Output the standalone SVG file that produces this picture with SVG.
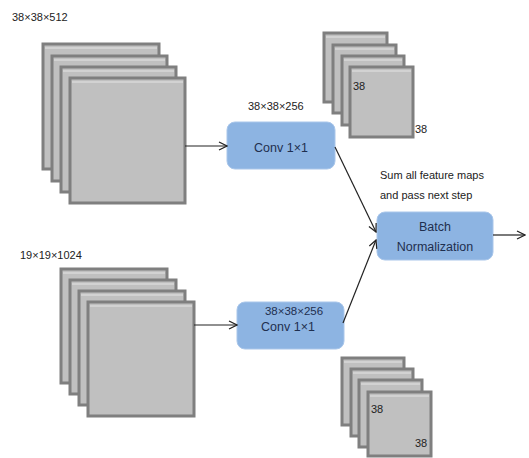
<svg xmlns="http://www.w3.org/2000/svg" width="529" height="458" viewBox="0 0 529 458">
<style>
.sq{fill:#c0c0c0;stroke:#7f7f7f;stroke-width:3}
.hl{stroke:#d8d8d8;stroke-width:1.5;fill:none}
.box{fill:#8db4e2;stroke:#a9c6ea;stroke-width:1}
.t{font-family:"Liberation Sans",Arial,sans-serif;font-size:11px;fill:#222}
.tb{font-family:"Liberation Sans",Arial,sans-serif;font-size:12.5px;fill:#1f2f4f;text-anchor:middle}
.ln{stroke:#222;stroke-width:1.2;fill:none}
</style>
<defs>
<marker id="ah" viewBox="0 0 10 10" refX="9" refY="5" markerWidth="10" markerHeight="10" markerUnits="userSpaceOnUse" orient="auto">
<polyline points="1,1 9,5 1,9" fill="none" stroke="#222" stroke-width="1.2"/>
</marker>
</defs>
<g id="stack1">
<rect class="sq" x="43" y="44" width="116" height="125"/>
<line class="hl" x1="45" y1="48" x2="157" y2="48"/>
<rect class="sq" x="52" y="56" width="115" height="125"/>
<line class="hl" x1="54" y1="60" x2="165" y2="60"/>
<rect class="sq" x="61" y="67" width="115" height="125"/>
<line class="hl" x1="63" y1="71" x2="174" y2="71"/>
<rect class="sq" x="70" y="78" width="115" height="125"/>
<line class="hl" x1="72" y1="82" x2="183" y2="82"/>
<text class="t" x="12" y="21">38×38×512</text>
</g>
<g id="stack2">
<rect class="sq" x="61" y="269" width="106" height="114"/>
<line class="hl" x1="63" y1="273" x2="165" y2="273"/>
<rect class="sq" x="70" y="280" width="106" height="114"/>
<line class="hl" x1="72" y1="284" x2="174" y2="284"/>
<rect class="sq" x="79" y="291" width="106" height="114"/>
<line class="hl" x1="81" y1="295" x2="183" y2="295"/>
<rect class="sq" x="88" y="302" width="106" height="114"/>
<line class="hl" x1="90" y1="306" x2="192" y2="306"/>
<text class="t" x="20" y="259">19×19×1024</text>
</g>
<g id="stack3">
<rect class="sq" x="324" y="33" width="63" height="69"/>
<line class="hl" x1="326" y1="37" x2="385" y2="37"/>
<rect class="sq" x="333" y="45" width="63" height="68"/>
<line class="hl" x1="335" y1="49" x2="394" y2="49"/>
<rect class="sq" x="342" y="56" width="62" height="69"/>
<line class="hl" x1="344" y1="60" x2="402" y2="60"/>
<rect class="sq" x="350" y="67" width="63" height="70"/>
<line class="hl" x1="352" y1="71" x2="411" y2="71"/>
<text class="t" x="353" y="90">38</text>
<text class="t" x="415" y="133">38</text>
</g>
<g id="stack4">
<rect class="sq" x="342" y="358" width="62" height="67"/>
<line class="hl" x1="344" y1="362" x2="402" y2="362"/>
<rect class="sq" x="351" y="369" width="62" height="67"/>
<line class="hl" x1="353" y1="373" x2="411" y2="373"/>
<rect class="sq" x="359" y="380" width="63" height="67"/>
<line class="hl" x1="361" y1="384" x2="420" y2="384"/>
<rect class="sq" x="368" y="392" width="63" height="64"/>
<line class="hl" x1="370" y1="396" x2="429" y2="396"/>
<text class="t" x="371" y="413">38</text>
<text class="t" x="415" y="447">38</text>
</g>
<g id="conv1">
<rect class="box" x="227" y="122" width="108" height="47" rx="8"/>
<text class="tb" x="281" y="152">Conv 1×1</text>
<text class="t" x="248" y="110">38×38×256</text>
</g>
<g id="conv2">
<rect class="box" x="237" y="302" width="107" height="47" rx="8"/>
<text class="tb" x="294" y="315" style="font-size:11.5px">38×38×256</text>
<text class="tb" x="288" y="331">Conv 1×1</text>
</g>
<g id="bn">
<rect class="box" x="377" y="212" width="116" height="48" rx="8"/>
<text class="tb" x="435" y="231">Batch</text>
<text class="tb" x="435" y="251">Normalization</text>
<text class="t" x="380" y="179">Sum all feature maps</text>
<text class="t" x="380" y="199">and pass next step</text>
</g>
<g id="connectors">
<line class="ln" x1="185" y1="146" x2="227" y2="146" marker-end="url(#ah)"/>
<line class="ln" x1="194" y1="325" x2="237" y2="325" marker-end="url(#ah)"/>
<line class="ln" x1="335" y1="147" x2="376" y2="232" marker-end="url(#ah)"/>
<line class="ln" x1="343" y1="323" x2="376" y2="240" marker-end="url(#ah)"/>
<line class="ln" x1="493" y1="235" x2="525" y2="235" marker-end="url(#ah)"/>
</g>
</svg>
